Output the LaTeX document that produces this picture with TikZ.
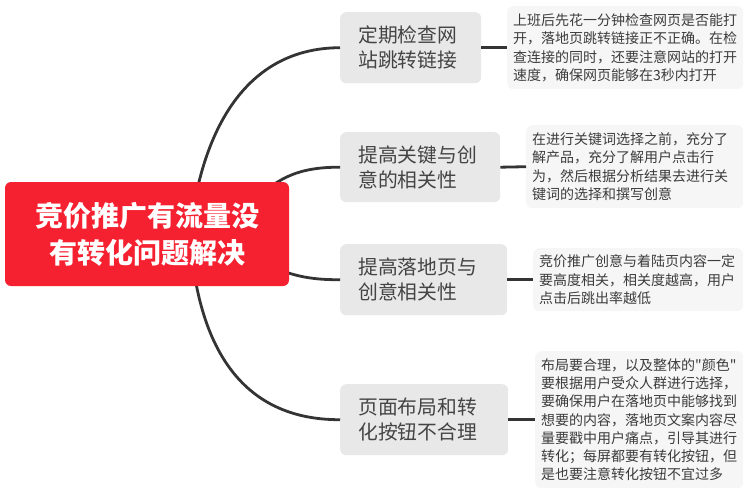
\documentclass[tikz,border=0pt]{standalone}
\usepackage{fontspec}
\newfontfamily\cjk{Noto Sans CJK SC}
\definecolor{rootred}{RGB}{246,33,48}
\definecolor{branchgray}{RGB}{232,232,232}
\definecolor{detailgray}{RGB}{246,246,246}
\definecolor{branchtext}{RGB}{68,68,68}
\definecolor{detailtext}{RGB}{60,60,60}
\definecolor{linkgray}{RGB}{52,52,52}
\begin{document}
\begin{tikzpicture}[x=1pt,y=-1pt,
  rootbox/.style={fill=rootred, rounded corners=6pt, text=white,
    font=\cjk\bfseries\fontsize{28}{37}\selectfont, align=center,
    inner sep=0pt, minimum width=284pt, minimum height=104pt},
  branchbox/.style={fill=branchgray, rounded corners=6pt, text=branchtext,
    font=\cjk\fontsize{19.8}{25}\selectfont, align=left, anchor=north west,
    inner xsep=18pt, inner ysep=0pt},
  detailbox/.style={fill=detailgray, rounded corners=6pt, text=detailtext,
    font=\cjk\fontsize{14}{18.3}\selectfont, align=left, anchor=north west,
    inner xsep=6pt, inner ysep=0pt},
  link/.style={draw=linkgray, line width=2.8pt}]
\useasboundingbox (0,0) rectangle (751,498);

% branch topics
\node[branchbox, text width=105pt, minimum height=71pt] (b1) at (340,12) {定期检查网\\站跳转链接};
\node[branchbox, text width=124pt, minimum height=70pt] (b2) at (340,132) {提高关键与创\\意的相关性};
\node[branchbox, text width=131pt, minimum height=71pt] (b3) at (340,244) {提高落地页与\\创意相关性};
\node[branchbox, text width=132pt, minimum height=71pt] (b4) at (340,384) {页面布局和转\\化按钮不合理};

% details
\node[detailbox, text width=224pt, minimum height=83pt] (d1) at (507,6)
  {上班后先花一分钟检查网页是否能打\\开，落地页跳转链接正不正确。在检\\查连接的同时，还要注意网站的打开\\速度，确保网页能够在3秒内打开};
\node[detailbox, text width=205pt, minimum height=83pt] (d2) at (526,125)
  {在进行关键词选择之前，充分了\\解产品，充分了解用户点击行\\为，然后根据分析结果去进行关\\键词的选择和撰写创意};
\node[detailbox, text width=198pt, minimum height=63pt] (d3) at (533,248)
  {竞价推广创意与着陆页内容一定\\要高度相关，相关度越高，用户\\点击后跳出率越低};
\node[detailbox, text width=196pt, minimum height=137pt] (d4) at (535,351)
  {布局要合理，以及整体的"颜色"\\要根据用户受众人群进行选择，\\要确保用户在落地页中能够找到\\想要的内容，落地页文案内容尽\\量要戳中用户痛点，引导其进行\\转化；每屏都要有转化按钮，但\\是也要注意转化按钮不宜过多};

% branch-detail connectors
\draw[link] (b1.east) -- (d1.west);
\draw[link] (b2.east) -- (d2.west);
\draw[link] (b3.east) -- (d3.west);
\draw[link] (b4.east) -- (d4.west);

% curve starts (hidden behind root)
\coordinate (s1) at (190,234);
\coordinate (s2) at (250,205);
\coordinate (s3) at (260,262);
\coordinate (s4) at (190,234);

\draw[link] (s1) .. controls (200,140) and (240,48) .. (b1.west);
\draw[link] (s2) .. controls (275,180) and (295,167) .. (b2.west);
\draw[link] (s3) .. controls (285,272) and (300,280) .. (b3.west);
\draw[link] (s4) .. controls (197,345) and (240,420) .. (b4.west);

% root
\node[rootbox] (root) at (147,234) {竞价推广有流量没\\有转化问题解决};
\end{tikzpicture}
\end{document}
